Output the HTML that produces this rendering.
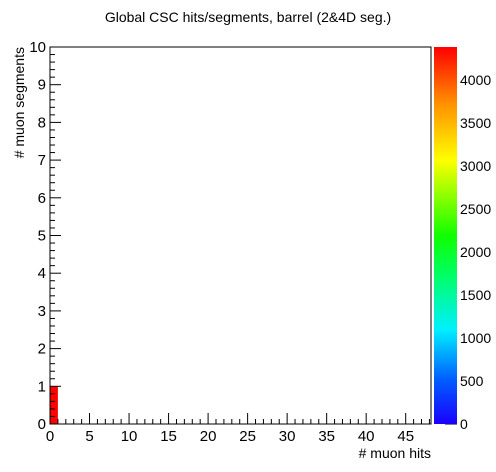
<!DOCTYPE html>
<html><head><meta charset="utf-8"><style>
body{margin:0;background:#fff;}
svg{display:block;font-family:"Liberation Sans",Arial,sans-serif;}
</style></head><body>
<svg id="c" width="496" height="472" xmlns="http://www.w3.org/2000/svg">
<defs><linearGradient id="pal" x1="0" y1="1" x2="0" y2="0">
<stop offset="0" stop-color="#1a00ff"/><stop offset="0.12" stop-color="#0060ff"/>
<stop offset="0.25" stop-color="#00f0ff"/><stop offset="0.4" stop-color="#00ff60"/>
<stop offset="0.5" stop-color="#10ff00"/><stop offset="0.7" stop-color="#ffff00"/>
<stop offset="0.85" stop-color="#ff9000"/><stop offset="1" stop-color="#ff0000"/>
</linearGradient></defs>
<text x="248" y="22" text-anchor="middle" font-size="14">Global CSC hits/segments, barrel (2&amp;4D seg.)</text>
<g id="cells"></g>
<rect x="50" y="47" width="381" height="377" fill="none" stroke="#000"/>
<g id="ax" stroke="#000" fill="none"></g>
<g id="lbl" font-size="15"></g>
<rect x="434" y="47" width="23" height="377" fill="url(#pal)"/>
<text x="431" y="458" text-anchor="end" font-size="14"># muon hits</text>
<text transform="translate(24,47) rotate(-90)" text-anchor="end" font-size="14"># muon segments</text>
</svg>
<script>
const xBins=[0];
const yBins=[0];
const counts=[4380];
const zMax=4384;
const zTicks=[0,500,1000,1500,2000,2500,3000,3500,4000];
const xTicks=[0,5,10,15,20,25,30,35,40,45];
const yTicks=[0,1,2,3,4,5,6,7,8,9,10];
const X=v=>50+v*381/48.2, Y=v=>424-v*37.7, Z=v=>424-v*377/zMax;
const NS="http://www.w3.org/2000/svg";
function mk(t,a,p){const e=document.createElementNS(NS,t);for(const k in a)e.setAttribute(k,a[k]);p.appendChild(e);return e;}
const cells=document.getElementById('cells'),ax=document.getElementById('ax'),lbl=document.getElementById('lbl');
counts.forEach((c,i)=>{const r=mk('rect',{x:X(xBins[i]),y:Y(yBins[i]+1),width:X(xBins[i]+1)-X(xBins[i]),height:Y(yBins[i])-Y(yBins[i]+1),fill:'#ff0000'},cells);

});
for(let v=0;v<=48;v++){const x=X(v);mk('line',{x1:x,x2:x,y1:424,y2:v%5?419:413},ax);}
xTicks.forEach(v=>{const t=mk('text',{x:X(v),y:441,'text-anchor':'middle'},lbl);t.textContent=v;

});
for(let v=0;v<=50;v++){const y=Y(v/5);mk('line',{x1:50,x2:v%5?55:61,y1:y,y2:y},ax);}
yTicks.forEach(v=>{const t=mk('text',{x:46,y:Y(v)+5,'text-anchor':'end'},lbl);t.textContent=v;

});
zTicks.forEach(v=>{const y=Z(v);mk('line',{x1:445,x2:457,y1:y,y2:y},ax);});
zTicks.forEach(v=>{const t=mk('text',{x:460,y:Z(v)+5,'font-size':14},lbl);t.textContent=v;

});
</script>
</body></html>
